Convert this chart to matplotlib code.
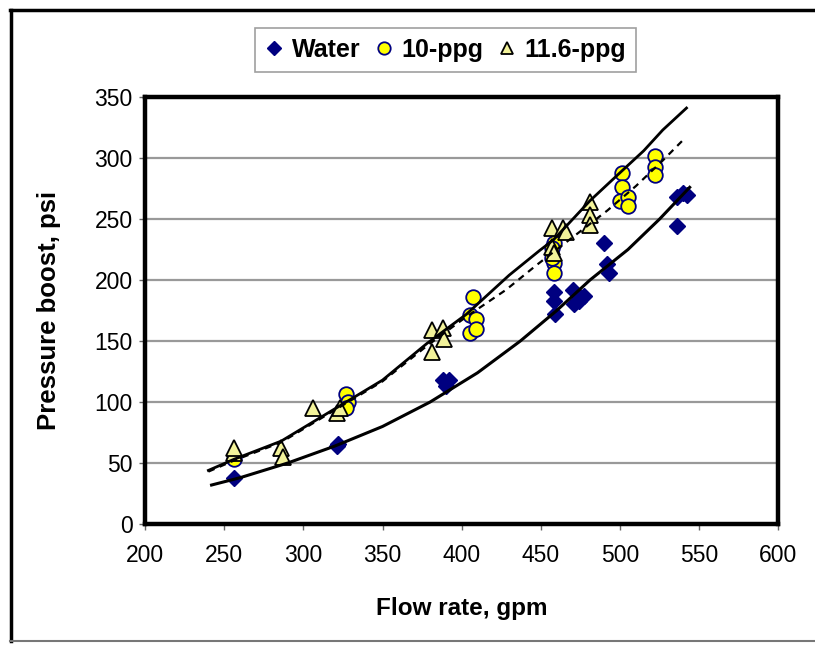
import numpy as np
import matplotlib.pyplot as plt
from matplotlib.lines import Line2D

plt.rcParams['font.family'] = ['Liberation Sans', 'DejaVu Sans']

# measured points, flow rate (gpm) vs pressure boost (psi)
water_x = [256, 321, 322, 388, 390, 392, 458, 458, 459, 470, 471, 474, 477, 490, 492, 493, 536, 540, 542, 536]
water_y = [38, 64, 66, 118, 113, 118, 190, 183, 172, 192, 180, 183, 187, 230, 213, 206, 268, 271, 270, 244]

ppg10_x = [256, 327, 328, 327, 407, 405, 409, 405, 409, 458, 458, 458, 457, 457, 501, 501, 500, 505, 505, 522, 522, 522]
ppg10_y = [53, 107, 100, 95, 186, 171, 168, 157, 160, 230, 214, 206, 218, 226, 288, 276, 265, 268, 261, 302, 293, 286]

ppg116_x = [256, 256, 286, 287, 306, 321, 323, 381, 388, 381, 389, 457, 464, 457, 458, 466, 481, 481, 481]
ppg116_y = [58, 62, 62, 55, 95, 91, 95, 159, 161, 141, 152, 243, 243, 227, 222, 239, 264, 253, 245]

# trend lines
fit_w_x = [242, 260, 290, 320, 350, 380, 410, 437, 460, 481, 505, 525, 544]
fit_w_y = [32, 38, 50, 64, 80, 100, 124, 150, 175, 200, 225, 250, 276]

fit_116_x = [240, 256, 286, 318, 350, 378, 403, 430, 449, 458, 481, 500, 515, 527, 542]
fit_116_y = [44, 53, 68, 93, 118, 148, 172, 204, 224, 233, 265, 288, 306, 323, 341]

fit_10_x = [240, 256, 286, 318, 350, 378, 403, 428, 447, 470, 492, 510, 527, 540]
fit_10_y = [43, 52, 67, 92, 117, 146, 170, 192, 212, 235, 257, 277, 298, 315]

fig = plt.figure(figsize=(8.15, 6.47), dpi=100)
ax = fig.add_axes([0.178, 0.190, 0.777, 0.660])

ax.plot(water_x, water_y, 'D', color='#000080', ms=8.5, mec='#000080', zorder=3, label='Water')
ax.plot(ppg10_x, ppg10_y, 'o', color='#FFFF00', ms=10.5, mec='#000080', mew=1.3, zorder=3, label='10-ppg')
ax.plot(ppg116_x, ppg116_y, '^', color='#F2F29A', ms=11, mec='black', mew=1.3, zorder=4, label='11.6-ppg')

ax.plot(fit_w_x, fit_w_y, '-', color='black', lw=2.2, zorder=5)
ax.plot(fit_116_x, fit_116_y, '-', color='black', lw=2.0, zorder=5)
ax.plot(fit_10_x, fit_10_y, '--', color='black', lw=1.6, dashes=(3, 2.5), zorder=5)

ax.set_xlim(200, 600)
ax.set_ylim(0, 350)
ax.set_xticks(np.arange(200, 601, 50))
ax.set_yticks(np.arange(0, 351, 50))
ax.yaxis.grid(True, color='#999999', lw=1.6)
ax.set_axisbelow(True)
for s in ax.spines.values():
    s.set_linewidth(3.2)
    s.set_color('black')
ax.tick_params(axis='both', direction='out', length=4, width=1, color='#666666', labelsize=16.5)
ax.tick_params(axis='x', pad=10)
ax.tick_params(axis='y', pad=5)

ax.set_xlabel('Flow rate, gpm', fontsize=17.5, fontweight='bold', labelpad=22)
ax.set_ylabel('Pressure boost, psi', fontsize=18.5, fontweight='bold', labelpad=24)

leg = fig.legend(loc='center', bbox_to_anchor=(0.547, 0.923), ncol=3,
                 prop={'weight': 'bold', 'size': 18}, frameon=True, fancybox=False,
                 handlelength=0.7, handletextpad=0.35, columnspacing=0.6, borderpad=0.4,
                 markerscale=0.85)
leg.get_frame().set_edgecolor('#888888')
leg.get_frame().set_linewidth(1.2)

# outer border of the picture
fig.add_artist(Line2D([0.013, 0.013], [0.01, 0.985], color='black', lw=2.5, transform=fig.transFigure))
fig.add_artist(Line2D([0.012, 1.0], [0.985, 0.985], color='black', lw=2.5, transform=fig.transFigure))
fig.add_artist(Line2D([0.012, 1.0], [0.010, 0.010], color='#777777', lw=1.5, transform=fig.transFigure))

fig.savefig('out.png', dpi=100)
